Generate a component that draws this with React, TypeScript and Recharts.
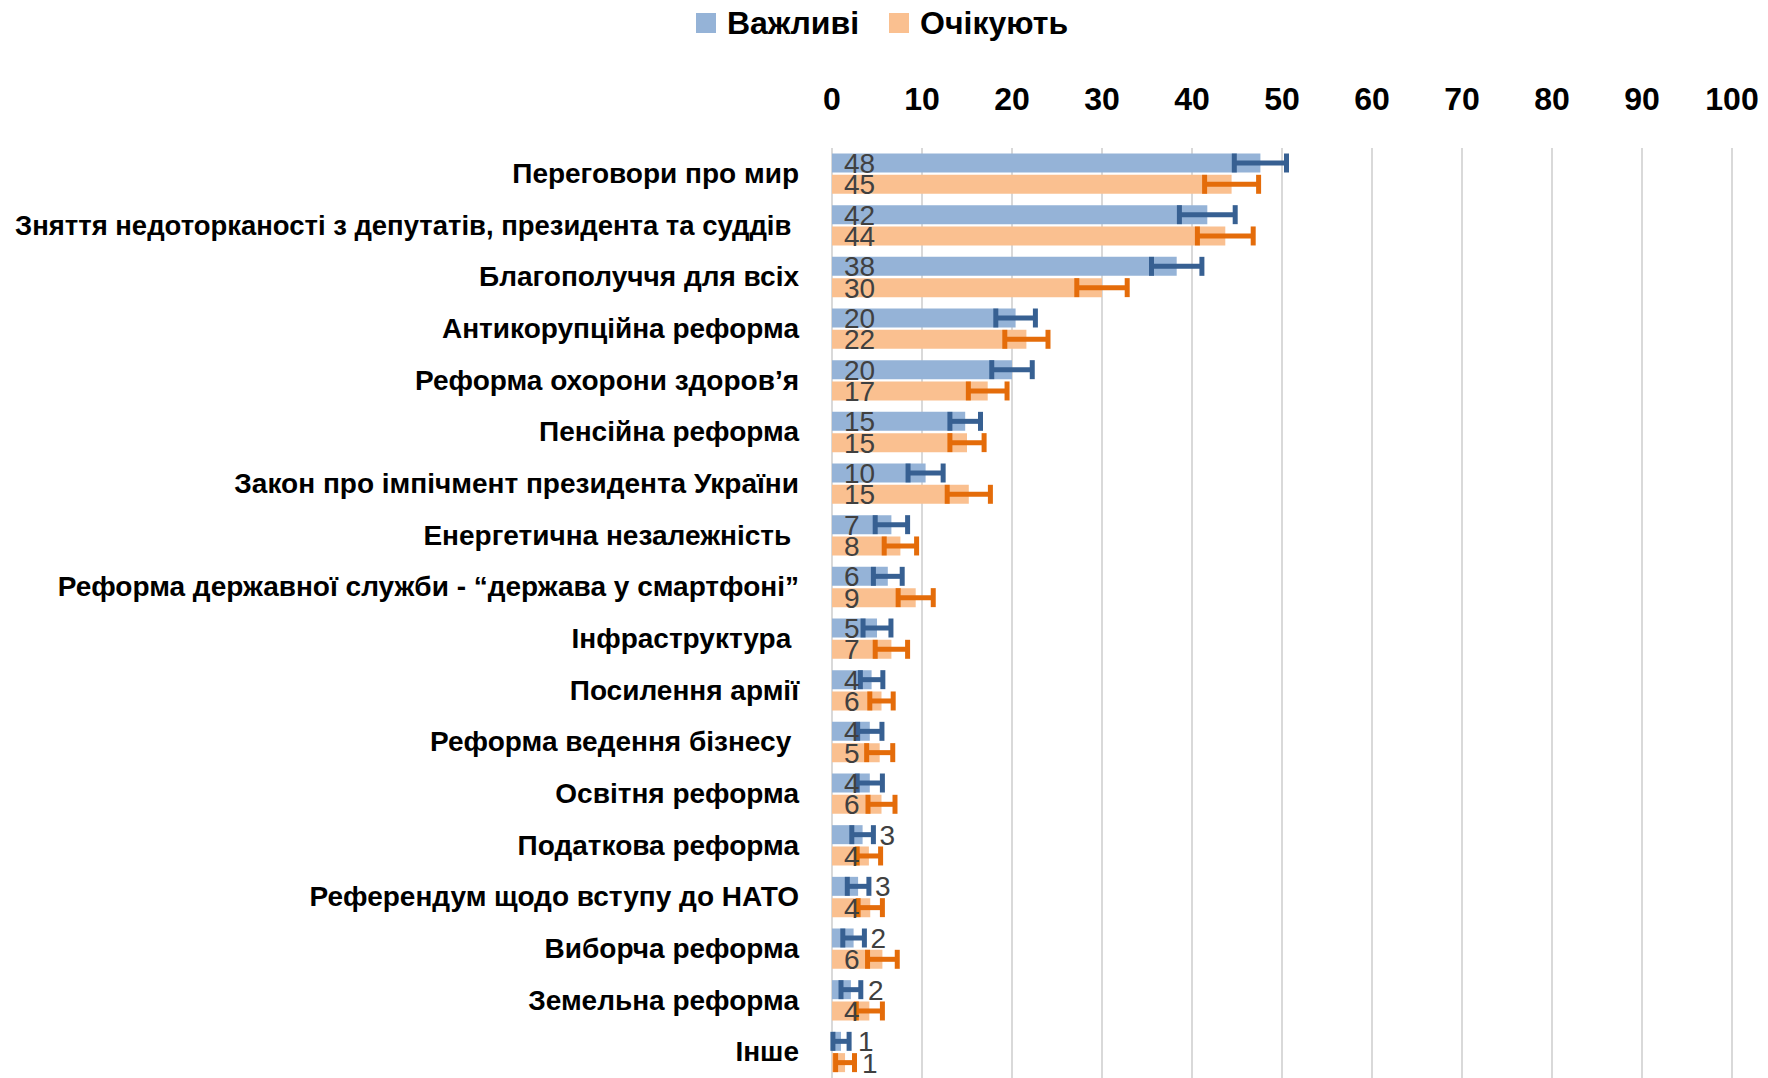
import { BarChart, Bar, XAxis, YAxis, CartesianGrid, Legend, ErrorBar, LabelList } from 'recharts'

const categories = [
    'Переговори про мир',
    'Зняття недоторканості з депутатів, президента та суддів ',
    'Благополуччя для всіх',
    'Антикорупційна реформа',
    'Реформа охорони здоров’я',
    'Пенсійна реформа',
    'Закон про імпічмент президента України',
    'Енергетична незалежність ',
    'Реформа державної служби - “держава у смартфоні”',
    'Інфраструктура ',
    'Посилення армії',
    'Реформа ведення бізнесу ',
    'Освітня реформа',
    'Податкова реформа',
    'Референдум щодо вступу до НАТО',
    'Виборча реформа',
    'Земельна реформа',
    'Інше',
]

// bar lengths, the printed labels are kept apart
const importantValues = [47.6, 41.7, 38.3, 20.4, 20.0, 14.8, 10.4, 6.6, 6.2, 5.0, 4.4, 4.2, 4.2, 3.4, 2.9, 2.4, 2.1, 1.0]
const importantErrors = [2.9, 3.1, 2.8, 2.2, 2.25, 1.7, 1.95, 1.8, 1.6, 1.55, 1.25, 1.35, 1.4, 1.2, 1.2, 1.2, 1.1, 0.9]
const importantLabels = [48, 42, 38, 20, 20, 15, 10, 7, 6, 5, 4, 4, 4, 3, 3, 2, 2, 1]

const expectedValues = [44.4, 43.7, 30.0, 21.6, 17.3, 15.0, 15.2, 7.6, 9.3, 6.6, 5.5, 5.3, 5.5, 4.1, 4.25, 5.6, 4.15, 1.45]
const expectedErrors = [3.0, 3.1, 2.8, 2.4, 2.15, 1.9, 2.4, 1.8, 1.95, 1.8, 1.3, 1.45, 1.5, 1.3, 1.35, 1.65, 1.45, 1.05]
const expectedLabels = [45, 44, 30, 22, 17, 15, 15, 8, 9, 7, 6, 5, 6, 4, 4, 6, 4, 1]

const xTicks = [0, 10, 20, 30, 40, 50, 60, 70, 80, 90, 100]

const seriesNames = ['Важливі', 'Очікують']
const colors = { imp: '#95b3d7', exp: '#fac090', impErr: '#376092', expErr: '#e46c0a' }

const FONT = "'Liberation Sans', Arial, sans-serif"
const CAT_SIZE = 28
const CAT_MAX = 784

const data = categories.map((name, i) => ({
    name,
    imp: importantValues[i],
    impErr: importantErrors[i],
    impLabel: importantLabels[i],
    exp: expectedValues[i],
    expErr: expectedErrors[i],
    expLabel: expectedLabels[i],
}))

let measureCtx: CanvasRenderingContext2D | null = null
const textWidth = (s: string) => {
    if (!measureCtx) measureCtx = document.createElement('canvas').getContext('2d')
    if (!measureCtx) return 0
    measureCtx.font = `bold ${CAT_SIZE}px ${FONT}`
    return measureCtx.measureText(s).width
}

const TopTick = (props: any) => {
    const { x, payload } = props
    return <text x={x} y={102} textAnchor="middle" fontFamily={FONT} fontWeight="bold" fontSize={32} fill="#000">
        {payload.value}
    </text>
}

const CategoryTick = (props: any) => {
    const { y, payload } = props
    // the long label is squeezed a little, the original font is narrower
    const tooLong = textWidth(payload.value) > CAT_MAX
    return <text x={791} y={y} dy={9} textAnchor="end" fontFamily={FONT} fontWeight="bold" fontSize={CAT_SIZE}
        fill="#000" style={{ whiteSpace: 'pre' }}
        {...(tooLong ? { textLength: CAT_MAX, lengthAdjust: 'spacingAndGlyphs' } : {})}>
        {payload.value}
    </text>
}

// small values get their number pushed past the error bar, like in the original
const BarLabel = (props: any) => {
    const { x, y, width, height, value } = props
    const outside = value <= 3
    const tx = outside ? x + width + 17 : x + 12
    return <text x={tx} y={y + height / 2} dy={10} textAnchor="start" fontFamily={FONT} fontSize={28} fill="#404040">
        {value}
    </text>
}

const LegendBox = () => (
    <div style={{ display: 'flex', justifyContent: 'center', alignItems: 'center', height: 30, paddingRight: 12,
        fontFamily: FONT, fontWeight: 'bold', fontSize: 32, color: '#000' }}>
        {seriesNames.map((n, i) => (
            <div key={n} style={{ display: 'flex', alignItems: 'center', marginRight: i === 0 ? 30 : 0 }}>
                <span style={{ width: 20, height: 20, background: i === 0 ? colors.imp : colors.exp, marginRight: 11 }} />
                <span>{n}</span>
            </div>
        ))}
    </div>
)

const App = () => {
    return (<div style={{ width: 1760, height: 1070 }}>
        <BarChart width={1760} height={1070} data={data} layout="vertical"
            margin={{ top: 0, right: 36, bottom: 0, left: 0 }} barCategoryGap={5.5} barGap={2.3}>
            <Legend verticalAlign="top" height={30} width={1760} wrapperStyle={{ left: 0, top: 0 }} content={<LegendBox />} />
            <CartesianGrid horizontal={false} stroke="#d9d9d9" strokeWidth={2} />
            <XAxis type="number" orientation="top" domain={[0, 100]} ticks={xTicks} height={110}
                axisLine={false} tickLine={false} tick={<TopTick />} />
            <YAxis type="category" dataKey="name" width={824} axisLine={false} tickLine={false}
                interval={0} tick={<CategoryTick />} />
            <Bar dataKey="imp" name={seriesNames[0]} fill={colors.imp} isAnimationActive={false}>
                <ErrorBar dataKey="impErr" direction="x" width={9.5} strokeWidth={5} stroke={colors.impErr} />
                <LabelList dataKey="impLabel" content={<BarLabel />} />
            </Bar>
            <Bar dataKey="exp" name={seriesNames[1]} fill={colors.exp} isAnimationActive={false}>
                <ErrorBar dataKey="expErr" direction="x" width={9.5} strokeWidth={5} stroke={colors.expErr} />
                <LabelList dataKey="expLabel" content={<BarLabel />} />
            </Bar>
        </BarChart>
    </div>)
}

export default App
